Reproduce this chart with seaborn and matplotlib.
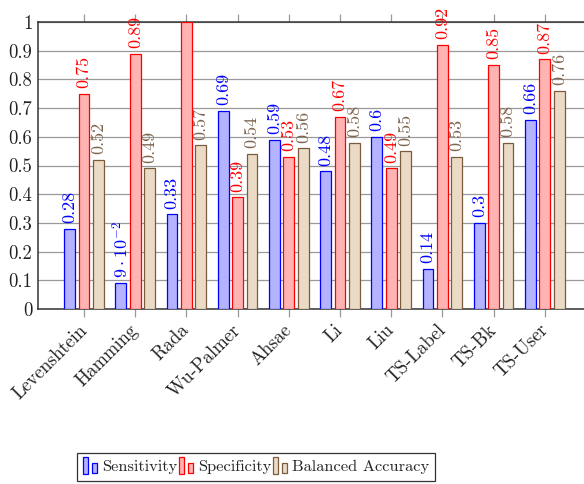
import matplotlib
matplotlib.use("Agg")
import matplotlib.pyplot as plt
import matplotlib.patches as mpatches
import matplotlib.transforms as mtransforms
from matplotlib.legend_handler import HandlerBase
import seaborn as sns
import pandas as pd

# Similarity measures and their scores
methods = ["Levenshtein", "Hamming", "Rada", "Wu-Palmer", "Ahsae",
           "Li", "Liu", "TS-Label", "TS-Bk", "TS-User"]
sensitivity = [0.28, 0.09, 0.33, 0.69, 0.59, 0.48, 0.60, 0.14, 0.30, 0.66]
specificity = [0.75, 0.89, 1.00, 0.39, 0.53, 0.67, 0.49, 0.92, 0.85, 0.87]
balanced_acc = [0.52, 0.49, 0.57, 0.54, 0.56, 0.58, 0.55, 0.53, 0.58, 0.76]

series_names = ["Sensitivity", "Specificity", "Balanced Accuracy"]
series_values = [sensitivity, specificity, balanced_acc]
y_ticks = [0, 0.1, 0.2, 0.3, 0.4, 0.5, 0.6, 0.7, 0.8, 0.9, 1]

fills = ["#B3B3FF", "#FFB3B3", "#EBDAC6"]
edges = ["#0000FF", "#FF0000", "#7A5C3C"]
text_cols = ["#0000FF", "#FF0000", "#7D6650"]

df = pd.DataFrame({
    "method": methods * 3,
    "metric": [n for n in series_names for _ in methods],
    "value": sensitivity + specificity + balanced_acc,
})

sns.set_theme(style="white")
plt.rcParams["font.family"] = ["cmr10", "DejaVu Serif"]
plt.rcParams["mathtext.fontset"] = "cm"
plt.rcParams["axes.formatter.use_mathtext"] = True

fig = plt.figure(figsize=(5.84, 4.84), dpi=100)
# the plot area runs past the right edge of the canvas
ax_left, ax_right = 38, 640
ax = fig.add_axes([ax_left / 584, 1 - 309 / 484, (ax_right - ax_left) / 584,
                   (309 - 22) / 484])

sns.barplot(data=df, x="method", y="value", hue="metric", order=methods,
            hue_order=series_names, palette=fills, width=0.84, gap=0.25,
            ax=ax, legend=False, saturation=1)


def fmt(v):
    # values at the top of the axis fall outside the plot and get no label
    if v >= 1:
        return ""
    if v < 0.1:
        return r"$9\cdot10^{-2}$"
    return f"{v:.2f}".rstrip("0").rstrip(".")


for cont, vals, ec, tc in zip(ax.containers, series_values, edges, text_cols):
    for p in cont:
        p.set_edgecolor(ec)
        p.set_linewidth(0.9)
        p.set_zorder(3)
    ax.bar_label(cont, labels=[fmt(v) for v in vals], rotation=90,
                 padding=4, color=tc, fontsize=13)

# one category spans 51.2 px; first tick sits 46 px from the left spine
unit = 51.2
x0 = -46 / unit
ax.set_xlim(x0, x0 + (ax_right - ax_left) / unit)
ax.set_ylim(0, 1)
ax.set_yticks(y_ticks)
ax.set_yticklabels([f"{v:g}" for v in y_ticks], fontsize=13.5)
ax.set_xlabel("")
ax.set_ylabel("")
ax.grid(axis="y", color="#9a9a9a", linewidth=0.9, zorder=0)
ax.set_axisbelow(True)
ax.tick_params(axis="y", length=0, pad=4, colors="#222222")
ax.tick_params(axis="x", direction="out", length=6, width=0.9, color="#999999",
               top=True, bottom=True, labelsize=13.5, labelcolor="#222222", pad=2)
shift = mtransforms.ScaledTranslation(-6 / 100, -1 / 100, fig.dpi_scale_trans)
for lbl in ax.get_xticklabels():
    lbl.set_rotation(45)
    lbl.set_ha("right")
    lbl.set_va("top")
    lbl.set_rotation_mode("anchor")
    lbl.set_transform(lbl.get_transform() + shift)
for side in ["left", "bottom", "top"]:
    ax.spines[side].set_color("#333333")
    ax.spines[side].set_linewidth(1.1)
ax.spines["right"].set_visible(False)


class TwoBarHandler(HandlerBase):
    def __init__(self, face, edge):
        super().__init__()
        self.face = face
        self.edge = edge

    def create_artists(self, legend, orig_handle, xdescent, ydescent,
                       width, height, fontsize, trans):
        bw = width * 0.3
        r1 = mpatches.Rectangle((-xdescent, -ydescent - 2), bw, height + 4,
                                facecolor=self.face, edgecolor=self.edge,
                                linewidth=0.9, transform=trans)
        r2 = mpatches.Rectangle((-xdescent + width * 0.55, -ydescent - 1), bw,
                                height * 0.85, facecolor=self.face,
                                edgecolor=self.edge, linewidth=0.9,
                                transform=trans)
        return [r1, r2]


handles = [mpatches.Patch(label=n) for n in series_names]
handler_map = {h: TwoBarHandler(f, e) for h, f, e in zip(handles, fills, edges)}
leg = fig.legend(handles=handles, labels=series_names, handler_map=handler_map,
                 loc="center", bbox_to_anchor=(256 / 584, 1 - 467 / 484),
                 ncol=3, frameon=True, fancybox=False, fontsize=11.8,
                 handlelength=1.0, handletextpad=0.15, columnspacing=0.1,
                 borderpad=0.4, borderaxespad=0)
leg.get_frame().set_edgecolor("black")
leg.get_frame().set_linewidth(0.9)

fig.savefig("out.png", dpi=100)
